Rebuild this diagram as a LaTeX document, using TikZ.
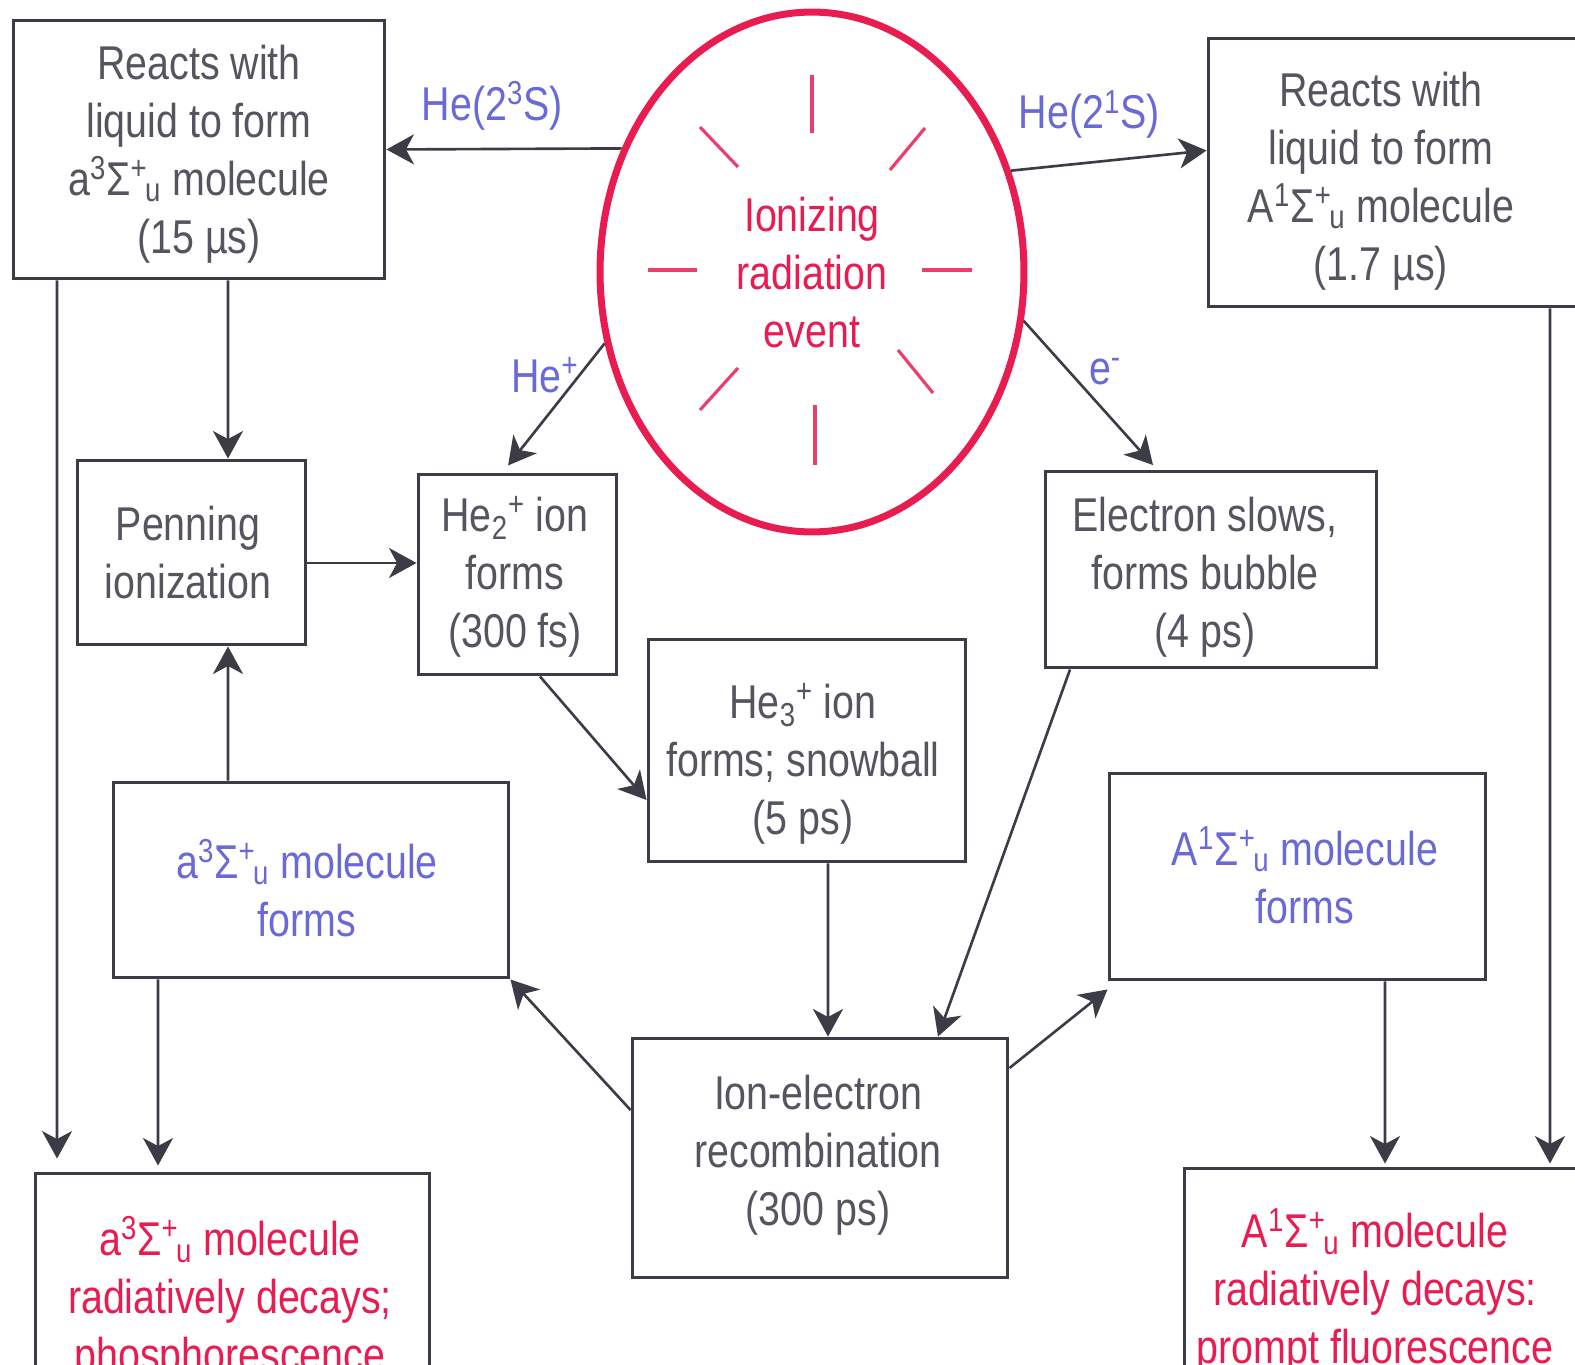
\documentclass[tikz,border=0pt]{standalone}
\usepackage{fontspec}
\setmainfont[FakeStretch=0.83]{Liberation Sans}
\usetikzlibrary{arrows.meta,shapes.geometric}
\definecolor{linec}{RGB}{60,60,70}
\definecolor{txtc}{RGB}{85,85,95}
\definecolor{bluec}{RGB}{105,105,215}
\definecolor{redc}{RGB}{232,28,80}
\newcommand\supsub[2]{\textsuperscript{#1}\kern-0.05em\textsubscript{#2}}
\begin{document}
\begin{tikzpicture}[x=0.02cm,y=-0.02cm,
  box/.style={draw=linec, line width=1.7pt, inner sep=0pt},
  txt/.style={align=center, font=\fontsize{27}{33}\selectfont, text=txtc, inner sep=0pt},
  bluetxt/.style={txt, text=bluec},
  redtxt/.style={txt, text=redc},
  arr/.style={draw=linec, line width=1.5pt, -{Stealth[length=0.55cm,width=0.6cm,inset=0.16cm]}},
  ray/.style={draw=redc!85, line width=1.8pt}]
\useasboundingbox (0,0) rectangle (1575,1365);
\clip (0,0) rectangle (1575,1365);

% ellipse
\node[ellipse, draw=redc, line width=4pt, minimum width=8.48cm, minimum height=10.4cm, inner sep=0pt] (ell) at (812,272) {};
\node[redtxt] (tell) at (812,273) {Ionizing\\radiation\\event};
\draw[ray] (812,75) -- (812,133);
\draw[ray] (815,405) -- (815,465);
\draw[ray] (648,270) -- (697,270);
\draw[ray] (922,270) -- (972,270);
\draw[ray] (700,127) -- (738,167);
\draw[ray] (925,128) -- (890,170);
\draw[ray] (738,368) -- (700,410);
\draw[ray] (898,350) -- (933,393);

% boxes
\node[box, minimum width=7.44cm, minimum height=5.18cm] (b1) at (199,149.5) {};
\node[txt] (t1) at (199,154) {Reacts with\\liquid to form\\a\textsuperscript{3}Σ\supsub{+}{u} molecule\\(15 µs)};

\node[box, minimum width=7.44cm, minimum height=5.38cm] (tr) at (1394,172.5) {};
\node[txt] (ttr) at (1381,181) {Reacts with\\liquid to form\\A\textsuperscript{1}Σ\supsub{+}{u} molecule\\(1.7 µs)};

\node[box, minimum width=4.58cm, minimum height=3.7cm] (pen) at (191.5,552.5) {};
\node[txt] (tpen) at (188,553) {Penning\\ionization};

\node[box, minimum width=3.98cm, minimum height=4.02cm] (he2) at (517.5,574.5) {};
\node[txt] (the2) at (515,577) {He\textsubscript{2}\textsuperscript{+} ion\\forms\\(300 fs)};

\node[box, minimum width=6.64cm, minimum height=3.94cm] (el) at (1211,569.5) {};
\node[txt] (tel) at (1205,577) {Electron slows,\\forms bubble\\(4 ps)};

\node[box, minimum width=6.36cm, minimum height=4.46cm] (he3) at (807,750.5) {};
\node[txt] (the3) at (803,764) {He\textsubscript{3}\textsuperscript{+} ion\\forms; snowball\\(5 ps)};

\node[box, minimum width=7.92cm, minimum height=3.92cm] (a3) at (311,880) {};
\node[bluetxt] (ta3) at (307,888) {a\textsuperscript{3}Σ\supsub{+}{u} molecule\\forms};

\node[box, minimum width=7.54cm, minimum height=4.14cm] (a1) at (1297.5,876.5) {};
\node[bluetxt] (ta1) at (1305,875) {A\textsuperscript{1}Σ\supsub{+}{u} molecule\\forms};

\node[box, minimum width=7.52cm, minimum height=4.8cm] (ion) at (820,1158) {};
\node[txt] (tion) at (818,1155) {Ion-electron\\recombination\\(300 ps)};

\node[box, minimum width=7.9cm, minimum height=5.54cm] (bl) at (232.5,1311.5) {};
\node[redtxt] (tbl) at (230,1299) {a\textsuperscript{3}Σ\supsub{+}{u} molecule\\radiatively decays;\\phosphorescence};

\node[box, minimum width=7.92cm, minimum height=5.64cm] (br) at (1382,1309) {};
\node[redtxt] (tbr) at (1375,1291) {A\textsuperscript{1}Σ\supsub{+}{u} molecule\\radiatively decays:\\prompt fluorescence};

% connectors from the ellipse
\draw[arr] (ell.147) -- (b1.east) node[bluetxt, pos=0.55, above=0.35cm] (l1) {He(2\textsuperscript{3}S)};
\draw[arr] (ell.27.5) -- ([yshift=0.44cm]tr.west) node[bluetxt, pos=0.4, above=0.45cm] (l2) {He(2\textsuperscript{1}S)};
\draw[arr, shorten >=0.18cm] (ell.199.7) -- ([xshift=-0.3cm]he2.north);
\node[bluetxt] (l3) at (545,375) {He\textsuperscript{+}};
\draw[arr, shorten >=0.12cm] (ell.-13.6) -- ([xshift=-1.08cm]el.north);
\node[bluetxt] (l4) at (1105,372) {e\textsuperscript{-}};

% other connectors
\draw[arr] ([xshift=0.58cm]b1.south) -- ([xshift=0.73cm]pen.north);
\draw[arr, shorten >=0.26cm] ([xshift=-2.84cm]b1.south) -- ([xshift=-3.51cm]bl.north);
\draw[arr] ([xshift=-1.66cm]a3.north) -- ([xshift=0.73cm]pen.south);
\draw[arr, shorten >=0.12cm] ([xshift=-3.06cm]a3.south) -- ([xshift=-1.49cm]bl.north);
\draw[arr] ([yshift=-0.21cm]pen.east) -- ([yshift=-0.21cm]pen.east -| he2.west);
\draw[arr] ([xshift=0.45cm]he2.south) -- ([yshift=-0.99cm]he3.west);
\draw[arr] ([xshift=0.42cm]he3.south) -- ([xshift=0.16cm]ion.north);
\draw[arr] ([xshift=-2.82cm]el.south) -- ([xshift=2.36cm]ion.north);
\draw[arr] ([yshift=0.96cm]ion.west) -- (a3.south east);
\draw[arr] ([yshift=1.8cm]ion.east) -- ([yshift=-0.16cm]a1.south west);
\draw[arr, shorten >=0.06cm] ([xshift=1.75cm]a1.south) -- ([xshift=0.06cm]br.north);
\draw[arr, shorten >=0.06cm] ([xshift=3.12cm]tr.south) -- ([xshift=3.36cm]br.north);
\end{tikzpicture}
\end{document}
